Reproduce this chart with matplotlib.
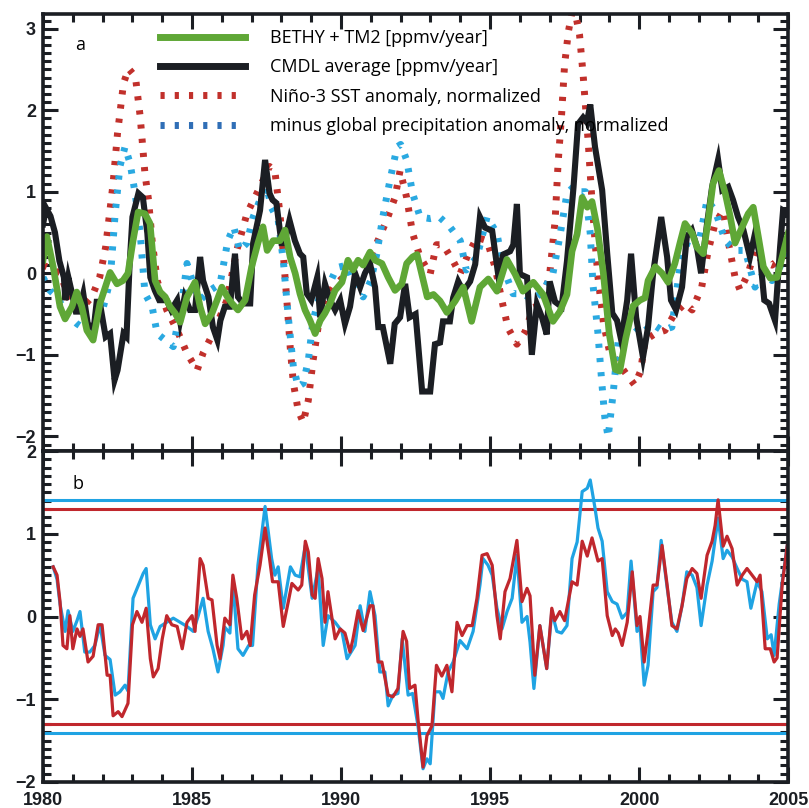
import matplotlib
matplotlib.use('Agg')
import matplotlib.pyplot as plt
from matplotlib.ticker import MultipleLocator
from matplotlib.lines import Line2D

# ---- data ----
# panel a: CMDL average growth rate
cmdl_t = [1980.0, 1980.1, 1980.25, 1980.4, 1980.55, 1980.7, 1980.75, 1980.85, 1980.95, 1981.1, 1981.2, 1981.35,
          1981.5, 1981.7, 1981.8, 1981.9, 1982.1, 1982.25, 1982.4, 1982.5, 1982.7, 1982.8, 1982.9, 1983.0,
          1983.2, 1983.35, 1983.5, 1983.6, 1983.75, 1983.9, 1984.15, 1984.3, 1984.5, 1984.6, 1984.75, 1984.93,
          1985.1, 1985.27, 1985.37, 1985.55, 1985.7, 1985.85, 1985.95, 1986.1, 1986.27, 1986.44, 1986.54, 1986.71,
          1986.95, 1987.05, 1987.28, 1987.45, 1987.6, 1987.7, 1987.83, 1988.0, 1988.1, 1988.27, 1988.45, 1988.62,
          1988.73, 1988.85, 1989.0, 1989.2, 1989.3, 1989.46, 1989.63, 1989.8, 1989.97, 1990.13, 1990.3, 1990.47,
          1990.64, 1990.8, 1990.97, 1991.14, 1991.25, 1991.4, 1991.65, 1991.8, 1991.98, 1992.15, 1992.3, 1992.5,
          1992.72, 1992.99, 1993.15, 1993.32, 1993.42, 1993.65, 1993.76, 1993.93, 1994.1, 1994.33, 1994.5, 1994.66,
          1994.83, 1995.07, 1995.27, 1995.44, 1995.67, 1995.78, 1995.9, 1996.0, 1996.24, 1996.4, 1996.57, 1996.74,
          1996.9, 1997.0, 1997.18, 1997.4, 1997.58, 1997.8, 1997.95, 1998.12, 1998.25, 1998.36, 1998.52, 1998.76,
          1998.93, 1999.1, 1999.26, 1999.4, 1999.6, 1999.73, 1999.9, 2000.13, 2000.3, 2000.47, 2000.74, 2000.94,
          2001.07, 2001.24, 2001.44, 2001.6, 2001.77, 2001.94, 2002.08, 2002.28, 2002.45, 2002.65, 2002.79, 2002.99,
          2003.15, 2003.32, 2003.5, 2003.72, 2003.89, 2004.06, 2004.2, 2004.36, 2004.56, 2004.73, 2004.83, 2005.0]
cmdl_v = [0.6, 0.8, 0.7, 0.5, 0.15, -0.05, -0.33, -0.05, -0.21, -0.47, -0.47, -0.25,
          -0.62, -0.68, -0.35, -0.35, -0.78, -0.74, -1.31, -1.19, -0.74, -0.78, 0.07, 0.69,
          0.98, 0.93, 0.49, -0.05, -0.21, -0.33, -0.33, -0.45, -0.33, -0.58, -0.29, -0.45,
          -0.45, 0.2, -0.09, -0.29, -0.66, -0.82, -0.58, -0.41, -0.41, 0.24, -0.29, -0.37,
          -0.37, 0.37, 0.77, 1.39, 0.98, 0.9, 0.86, 0.37, 0.37, 0.65, 0.4, 0.24,
          0.2, -0.25, -0.33, -0.05, -0.54, -0.13, -0.33, -0.45, -0.33, -0.62, -0.41, 0.0,
          -0.17, 0.0, 0.12, -0.17, -0.66, -0.66, -1.11, -0.62, -0.54, -0.13, -0.54, -0.5,
          -1.45, -1.45, -0.87, -0.85, -0.59, -0.59, -0.3, -0.1, -0.22, -0.1, 0.11, 0.69,
          0.56, 0.52, -0.01, 0.23, 0.27, 0.35, 0.85, -0.01, -0.05, -1.0, -0.38, -0.54,
          -0.75, -0.1, -0.35, -0.41, 0.15, 1.06, 1.83, 1.91, 1.85, 2.07, 1.55, 1.02,
          0.24, -0.49, -0.58, -0.82, -0.33, 0.24, -0.54, -1.03, -0.66, 0.0, 0.69, 0.2,
          -0.33, -0.45, -0.17, 0.45, 0.53, 0.32, 0.0, 0.61, 1.06, 1.39, 1.02, 1.06,
          0.9, 0.69, 0.53, 0.2, 0.49, 0.2, -0.33, -0.37, -0.58, 0.32, 0.77, 0.73]

# panel a: BETHY + TM2 model
bethy_t = [1980.0, 1980.13, 1980.34, 1980.57, 1980.74, 1980.97, 1981.13, 1981.3, 1981.47, 1981.68, 1981.91, 1982.25,
           1982.48, 1982.68, 1982.85, 1983.02, 1983.19, 1983.42, 1983.59, 1983.76, 1983.93, 1984.1, 1984.26, 1984.43,
           1984.6, 1984.83, 1985.1, 1985.27, 1985.44, 1985.67, 1985.84, 1986.0, 1986.2, 1986.34, 1986.54, 1986.78,
           1987.0, 1987.21, 1987.38, 1987.52, 1987.72, 1987.95, 1988.12, 1988.29, 1988.46, 1988.62, 1988.79, 1988.96,
           1989.13, 1989.3, 1989.46, 1989.63, 1989.8, 1990.03, 1990.23, 1990.4, 1990.57, 1990.74, 1990.97, 1991.14,
           1991.37, 1991.58, 1991.81, 1992.04, 1992.2, 1992.4, 1992.55, 1992.89, 1993.1, 1993.32, 1993.55, 1993.83,
           1994.1, 1994.38, 1994.66, 1994.94, 1995.23, 1995.56, 1995.84, 1996.1, 1996.45, 1996.78, 1997.11, 1997.34,
           1997.58, 1997.75, 1997.92, 1998.09, 1998.26, 1998.42, 1998.6, 1998.8, 1999.0, 1999.2, 1999.35, 1999.55,
           1999.8, 2000.03, 2000.2, 2000.3, 2000.54, 2000.77, 2000.97, 2001.2, 2001.37, 2001.54, 2001.78, 2001.94,
           2002.15, 2002.32, 2002.48, 2002.68, 2002.89, 2003.06, 2003.22, 2003.46, 2003.66, 2003.83, 2004.0, 2004.17,
           2004.4, 2004.63, 2004.8, 2005.0]
bethy_v = [0.16, 0.45, 0.08, -0.41, -0.56, -0.41, -0.23, -0.41, -0.7, -0.82, -0.37, 0.01,
           -0.13, -0.09, 0.0, 0.4, 0.75, 0.73, 0.61, -0.09, -0.23, -0.29, -0.41, -0.49,
           -0.6, -0.29, -0.11, -0.41, -0.62, -0.49, -0.33, -0.17, -0.3, -0.37, -0.45, -0.33,
           0.08, 0.37, 0.57, 0.28, 0.4, 0.4, 0.53, 0.2, 0.0, -0.25, -0.45, -0.58,
           -0.74, -0.58, -0.49, -0.37, -0.21, -0.11, 0.16, 0.04, 0.16, 0.1, 0.26, 0.16,
           0.12, -0.05, -0.21, -0.13, 0.12, 0.2, 0.23, -0.29, -0.26, -0.34, -0.48, -0.34,
           -0.17, -0.59, -0.17, -0.07, -0.22, 0.17, -0.01, -0.22, -0.11, -0.26, -0.59, -0.47,
           -0.26, 0.27, 0.48, 0.93, 0.81, 0.88, 0.55, 0.0, -0.75, -1.18, -1.2, -0.8,
           -0.4, -0.33, -0.3, -0.09, 0.08, 0.0, -0.11, 0.12, 0.37, 0.61, 0.49, 0.32,
           0.24, 0.65, 1.1, 1.26, 0.98, 0.69, 0.37, 0.57, 0.73, 0.81, 0.45, 0.08,
           -0.06, -0.05, 0.2, 0.49]

# panel a: Nino-3 SST anomaly (normalized)
nino_t = [1980.0, 1980.3, 1980.57, 1980.9, 1981.24, 1981.64, 1981.9, 1982.1, 1982.35, 1982.5, 1982.7, 1982.87,
          1983.1, 1983.26, 1983.42, 1983.54, 1983.66, 1983.83, 1984.15, 1984.5, 1984.83, 1985.17, 1985.37, 1985.7,
          1986.17, 1986.5, 1986.84, 1987.28, 1987.6, 1987.78, 1987.95, 1988.06, 1988.18, 1988.3, 1988.4, 1988.56,
          1988.73, 1988.9, 1989.06, 1989.23, 1989.46, 1989.73, 1990.07, 1990.53, 1990.87, 1991.2, 1991.53, 1991.81,
          1991.98, 1992.2, 1992.4, 1992.65, 1992.99, 1993.2, 1993.42, 1993.76, 1993.99, 1994.26, 1994.56, 1994.9,
          1995.17, 1995.4, 1995.6, 1995.9, 1996.17, 1996.45, 1996.74, 1997.0, 1997.18, 1997.28, 1997.4, 1997.5,
          1997.63, 1997.8, 1998.0, 1998.12, 1998.29, 1998.42, 1998.52, 1998.62, 1998.8, 1999.0, 1999.3, 1999.6,
          1999.85, 2000.05, 2000.2, 2000.54, 2000.87, 2001.2, 2001.54, 2001.78, 2002.1, 2002.32, 2002.55, 2002.82,
          2003.0, 2003.22, 2003.39, 2003.66, 2003.89, 2004.12, 2004.46, 2004.8, 2005.0]
nino_v = [0.1, 0.05, 0.0, -0.33, -0.45, -0.29, -0.05, 0.32, 1.1, 1.72, 2.33, 2.51,
          2.41, 1.92, 1.22, 0.9, 0.4, -0.09, -0.45, -0.7, -0.98, -1.19, -0.98, -0.74,
          -0.33, 0.28, 0.73, 1.06, 1.31, 1.25, 0.73, 0.24, -0.33, -0.94, -1.35, -1.68,
          -1.83, -1.56, -1.07, -0.66, -0.33, -0.17, -0.05, 0.07, 0.1, 0.37, 0.65, 0.93,
          1.26, 0.93, 0.49, 0.2, -0.01, 0.35, 0.35, 0.15, -0.01, 0.23, 0.44, 0.4,
          0.07, -0.34, -0.67, -0.87, -0.72, -0.42, -0.38, -0.01, 0.64, 1.34, 1.95, 2.56,
          2.97, 3.3, 2.93, 2.44, 1.62, 0.88, 0.4, -0.05, -0.6, -0.95, -1.1, -1.25,
          -1.37, -1.2, -0.82, -0.74, -0.7, -0.49, -0.37, -0.45, -0.17, 0.28, 0.61, 0.77,
          0.37, -0.05, -0.21, 0.0, 0.28, 0.15, 0.1, 0.2, 0.32]

# panel a: minus global precipitation anomaly (normalized)
precip_t = [1980.0, 1980.23, 1980.47, 1980.8, 1981.14, 1981.47, 1981.74, 1982.0, 1982.25, 1982.42, 1982.58, 1982.75,
            1982.92, 1983.09, 1983.26, 1983.42, 1983.66, 1983.83, 1984.1, 1984.37, 1984.67, 1984.83, 1985.04, 1985.27,
            1985.6, 1985.94, 1986.2, 1986.4, 1986.6, 1986.84, 1987.05, 1987.28, 1987.5, 1987.67, 1987.89, 1988.06,
            1988.23, 1988.4, 1988.56, 1988.73, 1988.9, 1989.06, 1989.3, 1989.56, 1989.86, 1990.2, 1990.47, 1990.74,
            1991.0, 1991.2, 1991.4, 1991.64, 1991.88, 1992.0, 1992.2, 1992.4, 1992.65, 1992.99, 1993.3, 1993.65,
            1994.0, 1994.2, 1994.56, 1994.9, 1995.23, 1995.44, 1995.77, 1996.1, 1996.45, 1996.78, 1997.11, 1997.34,
            1997.58, 1997.8, 1998.02, 1998.2, 1998.36, 1998.45, 1998.62, 1998.75, 1998.85, 1998.96, 1999.13, 1999.3,
            1999.45, 1999.6, 1999.85, 2000.1, 2000.44, 2000.77, 2001.1, 2001.37, 2001.64, 2001.98, 2002.28, 2002.55,
            2002.89, 2003.22, 2003.56, 2003.89, 2004.16, 2004.46, 2004.73, 2005.0]
precip_v = [-0.05, -0.21, -0.29, -0.5, -0.62, -0.7, -0.54, -0.45, -0.09, 0.73, 1.31, 1.55,
            1.35, 0.98, 0.49, -0.25, -0.41, -0.74, -0.82, -0.9, -0.33, 0.12, -0.13, -0.33,
            -0.21, -0.13, 0.4, 0.57, 0.28, 0.37, 0.69, 0.9, 1.06, 0.8, 0.65, 0.16,
            -0.54, -1.15, -1.39, -1.35, -1.07, -0.58, -0.25, -0.17, 0.07, 0.1, -0.17, -0.29,
            -0.09, 0.24, 0.69, 1.14, 1.55, 1.58, 1.39, 0.98, 0.69, 0.67, 0.69, 0.57,
            0.4, 0.04, 0.2, 0.69, 0.49, 0.07, -0.25, -0.25, -0.33, -0.21, 0.0, 0.45,
            0.98, 1.06, 1.0, 1.0, 0.49, -0.13, -0.74, -1.35, -1.77, -2.01, -1.47, -0.82,
            -0.74, -0.55, -0.65, -0.74, -0.62, -0.7, -0.66, 0.08, 0.4, 0.32, 0.9, 0.77,
            0.4, 0.28, 0.28, -0.17, 0.0, -0.09, 0.08, 0.32]

# panel b: two monthly-ish series
b_blue_t = [1980.34, 1980.47, 1980.57, 1980.74, 1980.84, 1981.0, 1981.14, 1981.24, 1981.4, 1981.57, 1981.74, 1981.91,
            1982.08, 1982.25, 1982.42, 1982.58, 1982.75, 1982.85, 1983.02, 1983.2, 1983.36, 1983.46, 1983.6, 1983.76,
            1983.93, 1984.15, 1984.37, 1984.6, 1984.83, 1985.04, 1985.2, 1985.37, 1985.54, 1985.7, 1985.87, 1986.04,
            1986.1, 1986.27, 1986.37, 1986.54, 1986.71, 1986.9, 1987.03, 1987.21, 1987.45, 1987.67, 1987.78, 1987.89,
            1988.06, 1988.3, 1988.46, 1988.62, 1988.8, 1989.03, 1989.23, 1989.4, 1989.56, 1989.8, 1990.03, 1990.2,
            1990.47, 1990.64, 1990.8, 1990.97, 1991.14, 1991.3, 1991.47, 1991.58, 1991.74, 1991.91, 1992.05, 1992.25,
            1992.4, 1992.58, 1992.75, 1992.88, 1992.99, 1993.15, 1993.32, 1993.42, 1993.59, 1993.76, 1993.99, 1994.23,
            1994.43, 1994.66, 1994.76, 1994.93, 1995.07, 1995.23, 1995.4, 1995.57, 1995.74, 1995.9, 1996.07, 1996.24,
            1996.34, 1996.47, 1996.67, 1996.9, 1997.07, 1997.24, 1997.4, 1997.58, 1997.75, 1997.92, 1998.09, 1998.26,
            1998.36, 1998.52, 1998.62, 1998.76, 1998.93, 1999.1, 1999.26, 1999.43, 1999.6, 1999.73, 1999.93, 2000.03,
            2000.17, 2000.3, 2000.47, 2000.6, 2000.74, 2000.94, 2001.1, 2001.27, 2001.44, 2001.6, 2001.78, 2001.94,
            2002.08, 2002.28, 2002.45, 2002.65, 2002.82, 2002.95, 2003.12, 2003.29, 2003.46, 2003.62, 2003.75, 2003.96,
            2004.12, 2004.3, 2004.43, 2004.53, 2004.7, 2004.97]
b_blue_v = [0.6, 0.45, 0.15, -0.18, 0.07, -0.18, -0.05, 0.06, -0.43, -0.43, -0.35, -0.1,
            -0.47, -0.52, -0.95, -0.91, -0.83, -0.9, 0.22, 0.38, 0.52, 0.58, -0.1, -0.27,
            -0.12, -0.07, -0.02, -0.07, -0.12, -0.18, 0.0, 0.22, -0.18, -0.39, -0.67, -0.35,
            -0.13, -0.2, 0.42, -0.39, -0.47, -0.35, -0.35, 0.62, 1.33, 0.7, 0.5, 0.6,
            0.1, 0.6, 0.5, 0.48, 0.86, 0.22, 0.58, -0.35, 0.01, -0.07, -0.18, -0.51,
            -0.35, 0.13, -0.18, 0.3, 0.01, -0.67, -0.67, -1.08, -0.95, -0.93, -0.27, -0.95,
            -0.93, -1.32, -1.84, -1.72, -1.78, -0.91, -0.91, -0.99, -0.67, -0.55, -0.29, -0.39,
            -0.18, 0.38, 0.7, 0.62, 0.5, 0.1, -0.15, 0.06, 0.22, 0.74, -0.07, 0.0,
            -0.31, -0.87, -0.11, -0.63, 0.06, -0.18, -0.2, -0.11, 0.7, 0.9, 1.51, 1.55,
            1.65, 1.31, 1.07, 0.91, 0.3, 0.18, 0.15, -0.02, 0.05, 0.67, -0.18, -0.12,
            -0.83, -0.59, 0.3, 0.35, 0.92, 0.35, -0.07, -0.18, 0.13, 0.54, 0.5, 0.35,
            -0.11, 0.38, 0.67, 1.19, 0.7, 0.8, 0.72, 0.58, 0.45, 0.42, 0.1, 0.42,
            0.3, -0.27, -0.22, -0.47, 0.15, 0.86]

b_red_t = [1980.34, 1980.47, 1980.57, 1980.67, 1980.8, 1980.9, 1981.0, 1981.14, 1981.24, 1981.34, 1981.51, 1981.68,
           1981.85, 1981.98, 1982.15, 1982.25, 1982.35, 1982.52, 1982.65, 1982.85, 1983.0, 1983.15, 1983.32, 1983.46,
           1983.6, 1983.7, 1983.86, 1984.0, 1984.15, 1984.32, 1984.5, 1984.67, 1984.83, 1985.0, 1985.1, 1985.27,
           1985.37, 1985.54, 1985.67, 1985.84, 1985.94, 1986.1, 1986.27, 1986.37, 1986.5, 1986.67, 1986.84, 1986.95,
           1987.1, 1987.28, 1987.45, 1987.6, 1987.7, 1987.89, 1988.06, 1988.23, 1988.35, 1988.56, 1988.68, 1988.8,
           1988.9, 1989.03, 1989.13, 1989.23, 1989.36, 1989.46, 1989.56, 1989.8, 1989.97, 1990.13, 1990.3, 1990.4,
           1990.57, 1990.74, 1990.97, 1991.07, 1991.24, 1991.37, 1991.58, 1991.74, 1991.91, 1992.08, 1992.2, 1992.3,
           1992.48, 1992.58, 1992.75, 1992.88, 1993.05, 1993.2, 1993.38, 1993.55, 1993.72, 1993.89, 1994.06, 1994.23,
           1994.4, 1994.56, 1994.73, 1994.9, 1995.07, 1995.23, 1995.34, 1995.5, 1995.67, 1995.9, 1996.07, 1996.24,
           1996.34, 1996.5, 1996.67, 1996.9, 1997.07, 1997.17, 1997.34, 1997.5, 1997.75, 1997.92, 1998.09, 1998.26,
           1998.42, 1998.62, 1998.76, 1998.93, 1999.1, 1999.2, 1999.3, 1999.43, 1999.6, 1999.77, 1999.93, 2000.03,
           2000.17, 2000.3, 2000.47, 2000.6, 2000.77, 2000.94, 2001.1, 2001.27, 2001.44, 2001.6, 2001.78, 2001.94,
           2002.08, 2002.28, 2002.45, 2002.55, 2002.65, 2002.82, 2002.95, 2003.12, 2003.29, 2003.46, 2003.62, 2003.79,
           2003.96, 2004.06, 2004.23, 2004.4, 2004.53, 2004.63, 2004.8, 2004.97]
b_red_v = [0.6, 0.5, 0.18, -0.35, -0.39, 0.01, -0.39, -0.15, -0.24, -0.15, -0.55, -0.48,
           -0.1, -0.1, -0.71, -0.71, -1.2, -1.15, -1.21, -1.05, -0.1, 0.06, -0.07, 0.1,
           -0.51, -0.73, -0.63, -0.27, 0.01, -0.1, -0.12, -0.39, -0.07, 0.01, -0.18, 0.7,
           0.62, 0.22, 0.2, -0.35, -0.51, -0.02, -0.1, 0.5, 0.22, -0.27, -0.18, -0.35,
           0.26, 0.62, 1.07, 0.7, 0.42, 0.42, -0.12, 0.18, 0.4, 0.32, 0.38, 0.91,
           0.78, 0.26, 0.22, 0.7, 0.46, -0.07, 0.3, -0.27, -0.15, -0.2, -0.43, -0.27,
           0.07, -0.17, 0.13, 0.13, -0.55, -0.55, -0.95, -0.97, -0.87, -0.18, -0.3, -0.87,
           -0.83, -1.24, -1.82, -1.44, -1.32, -0.59, -0.72, -0.59, -0.91, -0.07, -0.23, -0.11,
           -0.11, 0.22, 0.74, 0.76, 0.62, 0.01, -0.27, 0.3, 0.46, 0.92, 0.18, 0.34,
           0.25, -0.71, -0.11, -0.63, 0.1, -0.05, 0.06, -0.05, 0.42, 0.38, 0.91, 0.73,
           0.95, 0.67, 0.7, 0.01, -0.23, -0.15, -0.2, -0.35, -0.07, 0.54, -0.11, 0.0,
           -0.55, -0.18, 0.38, 0.38, 0.86, 0.38, -0.11, -0.15, 0.13, 0.46, 0.58, 0.52,
           0.22, 0.74, 0.91, 1.1, 1.41, 0.85, 0.97, 0.82, 0.38, 0.5, 0.58, 0.5,
           0.42, 0.5, -0.39, -0.39, -0.55, -0.5, 0.38, 0.86]

# threshold lines in panel b
blue_limits = [1.41, -1.41]
red_limits = [1.30, -1.30]

# colours
GREEN = '#5fa736'
BLACK = '#1b1e23'
RED = '#c1302b'
SKY = '#2aa9e1'
DARKBLUE = '#2f6eb6'
B_BLUE = '#1fa3e3'
B_RED = '#c0272d'

dots = (0, (0.6, 1.45))

fig = plt.figure(figsize=(8.09, 8.08), dpi=100)
ax1 = fig.add_axes([0.0532, 0.4418, 0.921, 0.5409])
ax2 = fig.add_axes([0.0532, 0.0322, 0.921, 0.4096])

# ---- panel a ----
ax1.plot(nino_t, nino_v, color=RED, lw=5, linestyle=dots)
ax1.plot(precip_t, precip_v, color=SKY, lw=5, linestyle=dots)
ax1.plot(cmdl_t, cmdl_v, color=BLACK, lw=4.4, solid_joinstyle='miter')
ax1.plot(bethy_t, bethy_v, color=GREEN, lw=4.8)
ax1.set_ylim(-2.18, 3.18)
ax1.text(0.05, 0.929, 'a', transform=ax1.transAxes, fontsize=13, family='Open Sans',
         ha='center', va='center')

handles = [Line2D([], [], color=GREEN, lw=5),
           Line2D([], [], color=BLACK, lw=5),
           Line2D([], [], color=RED, lw=5, linestyle=dots),
           Line2D([], [], color=DARKBLUE, lw=5, linestyle=dots)]
labels = ['BETHY + TM2 [ppmv/year]',
          'CMDL average [ppmv/year]',
          'Niño-3 SST anomaly, normalized',
          'minus global precipitation anomaly, normalized']
ax1.legend(handles, labels, loc='upper left', bbox_to_anchor=(0.157, 0.965),
           frameon=False, borderpad=0, borderaxespad=0, handlelength=4.7,
           handletextpad=1.4, labelspacing=0.62,
           prop={'family': 'Open Sans', 'size': 13})

# ---- panel b ----
for y in blue_limits:
    ax2.axhline(y, color=B_BLUE, lw=2.2)
for y in red_limits:
    ax2.axhline(y, color=B_RED, lw=2.2)
ax2.plot(b_blue_t, b_blue_v, color=B_BLUE, lw=2.3)
ax2.plot(b_red_t, b_red_v, color=B_RED, lw=2.3)
ax2.set_ylim(-2, 2)
ax2.text(0.047, 0.9, 'b', transform=ax2.transAxes, fontsize=13, family='Open Sans',
         ha='center', va='center')

# ---- axes styling ----
for ax in (ax1, ax2):
    ax.set_xlim(1980, 2005)
    ax.xaxis.set_major_locator(MultipleLocator(5))
    ax.xaxis.set_minor_locator(MultipleLocator(1))
    ax.yaxis.set_major_locator(MultipleLocator(1))
    ax.yaxis.set_minor_locator(MultipleLocator(0.1))
    ax.tick_params(which='both', direction='in', top=True, right=True, width=2.2, colors=BLACK)
    ax.tick_params(which='major', length=11)
    ax.tick_params(which='minor', length=6)
    ax.tick_params(axis='y', pad=5)
    ax.tick_params(axis='x', pad=7)
    for sp in ax.spines.values():
        sp.set_linewidth(2.6)
        sp.set_color(BLACK)
    for lab in ax.get_xticklabels() + ax.get_yticklabels():
        lab.set_fontfamily('Liberation Sans')
        lab.set_fontweight('bold')
        lab.set_fontsize(13)

ax1.tick_params(axis='x', labelbottom=False)

fig.savefig('out.png', dpi=100)
